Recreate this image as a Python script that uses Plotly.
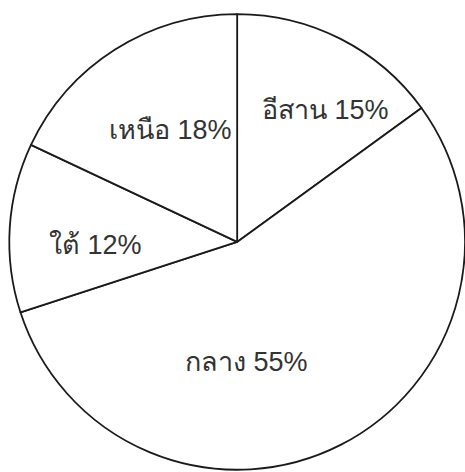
import plotly.graph_objects as go

# Regional share, clockwise from 12 o'clock
regions = ["อีสาน", "กลาง", "ใต้", "เหนือ"]
shares = [15, 55, 12, 18]
labels = [f"{r} {v}%" for r, v in zip(regions, shares)]

# Label anchor points (paper coordinates) for each slice caption
label_x = [0.700, 0.531, 0.206, 0.366]
label_y = [0.767, 0.233, 0.481, 0.725]

fig = go.Figure(
    go.Pie(
        labels=regions,
        values=shares,
        sort=False,
        direction="clockwise",
        rotation=0,
        textinfo="none",
        hoverinfo="label+percent",
        marker=dict(colors=["white"] * len(shares),
                    line=dict(color="#1a1a1a", width=1.8)),
        domain=dict(x=[0.02, 1.0], y=[0.0, 0.975]),
        showlegend=False,
    )
)

for txt, x, y in zip(labels, label_x, label_y):
    fig.add_annotation(
        text=txt, x=x, y=y, xref="paper", yref="paper",
        showarrow=False, xanchor="center", yanchor="middle",
        font=dict(family="Liberation Sans, Arial, sans-serif", size=27, color="#333333"),
    )

fig.update_layout(
    width=465, height=472,
    margin=dict(l=0, r=0, t=0, b=0),
    paper_bgcolor="white", plot_bgcolor="white",
)

fig.write_html("out.html")
